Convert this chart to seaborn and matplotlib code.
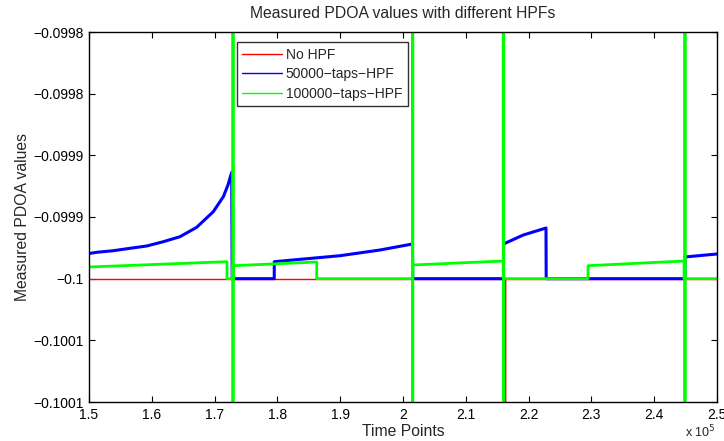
import matplotlib
matplotlib.use("Agg")
import matplotlib.pyplot as plt
from matplotlib.lines import Line2D
import seaborn as sns

# Measured PDOA values (time points in samples)
# No HPF: flat at -0.1 with one downward spike
t_nohpf = [1.5e5, 2.1619e5, 2.1619e5, 2.1619e5, 2.5e5]
v_nohpf = [-0.1, -0.1, -0.1015, -0.1, -0.1]

# 50000-taps HPF
t_50k = [1.5e5, 1.5123e5, 1.5387e5, 1.5653e5, 1.5919e5, 1.6183e5, 1.6449e5,
         1.6715e5, 1.6979e5, 1.7139e5, 1.7213e5, 1.7272e5, 1.7280e5,
         1.7950e5, 1.7950e5, 1.8997e5, 1.9634e5, 2.0150e5, 2.0155e5,
         2.1600e5, 2.1600e5, 2.1600e5, 2.1916e5, 2.2277e5, 2.2280e5,
         2.4490e5, 2.4490e5, 2.5e5]
v_50k = [-0.0999796, -0.09997862, -0.09997733, -0.09997538, -0.09997351,
         -0.09997003, -0.09996597, -0.09995835, -0.09994570, -0.09993354,
         -0.09992405, -0.09991376, -0.1,
         -0.1, -0.09998624, -0.09998138, -0.09997676, -0.09997189, -0.1,
         -0.1, -0.0990, -0.09997189, -0.09996459, -0.09995892, -0.1,
         -0.1, -0.0999824, -0.0999800]

# 100000-taps HPF
t_100k = [1.5e5, 1.7197e5, 1.7197e5, 1.7293e5, 1.7293e5, 1.7293e5, 1.7293e5,
          1.8626e5, 1.8626e5, 2.0155e5, 2.0155e5, 2.0155e5, 2.0155e5,
          2.1597e5, 2.1597e5, 2.1603e5, 2.1603e5, 2.1603e5, 2.1603e5,
          2.2946e5, 2.2946e5, 2.4475e5, 2.4475e5, 2.4490e5, 2.4490e5,
          2.4490e5, 2.4490e5, 2.5e5]
v_100k = [-0.09999054, -0.09998624, -0.1, -0.1, -0.0990, -0.1010, -0.09998949,
          -0.09998649, -0.1, -0.1, -0.0990, -0.1010, -0.09998892,
          -0.09998568, -0.1, -0.1, -0.0990, -0.1010, -0.1,
          -0.1, -0.09998949, -0.09998568, -0.1, -0.1, -0.0990,
          -0.1010, -0.1, -0.1]

series_names = ["No HPF", "50000\u2212taps\u2212HPF", "100000\u2212taps\u2212HPF"]
series_colors = ["#ff0000", "#0000ff", "#00ff00"]

x_ticks = [1.5e5, 1.6e5, 1.7e5, 1.8e5, 1.9e5, 2.0e5, 2.1e5, 2.2e5, 2.3e5, 2.4e5, 2.5e5]
x_tick_labels = ["1.5", "1.6", "1.7", "1.8", "1.9", "2", "2.1", "2.2", "2.3", "2.4", "2.5"]
y_ticks = [-0.10010, -0.10005, -0.1, -0.09995, -0.09990, -0.09985, -0.09980]
y_tick_labels = ["\u22120.1001", "\u22120.1001", "\u22120.1", "\u22120.0999",
                 "\u22120.0999", "\u22120.0998", "\u22120.0998"]

sns.set_theme(style="ticks")
plt.rcParams['font.family'] = ['Liberation Sans', 'DejaVu Sans']

fig = plt.figure(figsize=(7.24, 4.41), dpi=100)
ax = fig.add_axes([89 / 724, 39 / 441, 628 / 724, 370 / 441])

sns.lineplot(x=t_nohpf, y=v_nohpf, sort=False, estimator=None,
             color=series_colors[0], linewidth=1.0, ax=ax)
sns.lineplot(x=t_50k, y=v_50k, sort=False, estimator=None,
             color=series_colors[1], linewidth=2.2, ax=ax)
sns.lineplot(x=t_100k, y=v_100k, sort=False, estimator=None,
             color=series_colors[2], linewidth=2.0, ax=ax)

ax.set_xlim(1.5e5, 2.5e5)
ax.set_ylim(-0.10010, -0.09980)
ax.set_xticks(x_ticks)
ax.set_xticklabels(x_tick_labels, fontsize=10)
ax.set_yticks(y_ticks)
ax.set_yticklabels(y_tick_labels, fontsize=10)
ax.tick_params(direction='in', top=True, right=True, length=4, width=0.8,
               colors='black', pad=4)
for sp in ax.spines.values():
    sp.set_visible(True)
    sp.set_color('black')
    sp.set_linewidth(1.0)

ax.set_title("Measured PDOA values with different HPFs", fontsize=11.3, pad=10)
ax.set_xlabel("Time Points", fontsize=11.3, labelpad=2)
ax.set_ylabel("Measured PDOA values", fontsize=11.3)
ax.yaxis.set_label_coords(-0.094, 0.5)
ax.text(0.998, -0.095, r"x 10$^5$", transform=ax.transAxes, ha='right',
        va='baseline', fontsize=9)

handles = [Line2D([], [], color=c, linewidth=1.0) for c in series_colors]
leg = ax.legend(handles, series_names, loc='upper left',
                bbox_to_anchor=(0.235, 0.973), fontsize=10, frameon=True,
                fancybox=False, edgecolor='black', handlelength=2.9,
                borderpad=0.4, labelspacing=0.4, handletextpad=0.25,
                borderaxespad=0)
leg.get_frame().set_linewidth(1.0)

fig.savefig("out.png", dpi=100)
